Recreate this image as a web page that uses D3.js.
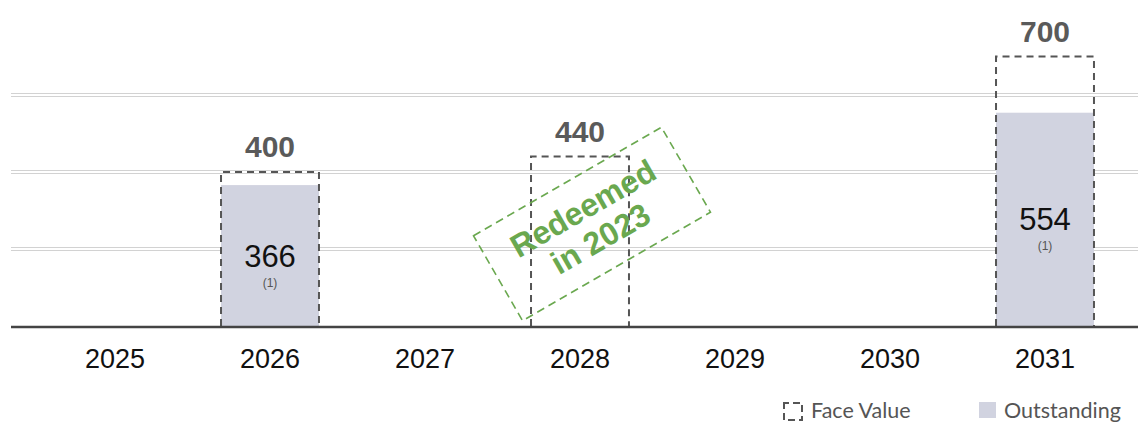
<!DOCTYPE html>
<html>
<head>
<meta charset="utf-8">
<script src="https://cdn.jsdelivr.net/npm/d3@7"></script>
<style>
  html, body { margin: 0; padding: 0; background: #fff; }
  svg { display: block; }
</style>
</head>
<body>
<svg id="chart" width="1138" height="424"></svg>
<script>
// Maturity profile (EUR m)
const years = ["2025", "2026", "2027", "2028", "2029", "2030", "2031"];
const faceValue = [null, 400, null, 440, null, null, 700];
const outstanding = [null, 366, null, null, null, null, 554];
const footnote = [null, "(1)", null, null, null, null, "(1)"];
const gridValues = [200, 400, 600];
const stampLines = ["Redeemed", "in 2023"];
const stampYear = "2028";
const legendItems = ["Face Value", "Outstanding"];

const W = 1138, H = 424;
const baseY = 326;
const svg = d3.select("#chart");

const x = d3.scaleBand()
  .domain(years)
  .range([37.5, 1122.5])
  .paddingInner(0.368)
  .paddingOuter(0.184);

const y = d3.scaleLinear()
  .domain([0, 700])
  .range([baseY, baseY - 700 * 0.385]);

const fillColor = "#d1d3e0";
const dashColor = "#555555";
const green = "#6aa84f";
const sans = "'Liberation Sans', Arial, sans-serif";

// double horizontal gridlines (two hairlines with a white gap)
const grid = svg.append("g");
gridValues.forEach(v => {
  const yc = Math.round(y(v));
  [-1.5, 1.5].forEach(off => {
    grid.append("line")
      .attr("x1", 11).attr("x2", W)
      .attr("y1", yc + off).attr("y2", yc + off)
      .attr("stroke", "#d2d2d2").attr("stroke-width", 1);
  });
});

const rows = years.map((yr, i) => ({
  year: yr, face: faceValue[i], out: outstanding[i], note: footnote[i]
}));

// outstanding bars
svg.append("g").selectAll("rect")
  .data(rows.filter(d => d.out != null))
  .join("rect")
  .attr("x", d => x(d.year))
  .attr("width", x.bandwidth())
  .attr("y", d => y(d.out))
  .attr("height", d => y(0) - y(d.out))
  .attr("fill", fillColor);

// face value frames
svg.append("g").selectAll("path")
  .data(rows.filter(d => d.face != null))
  .join("path")
  .attr("d", d => {
    const x0 = x(d.year), x1 = x0 + x.bandwidth(), yt = y(d.face);
    return `M${x0},${y(0)}V${yt}H${x1}V${y(0)}`;
  })
  .attr("fill", "none")
  .attr("stroke", dashColor)
  .attr("stroke-width", 2)
  .attr("stroke-dasharray", "7,5");

// face value labels
svg.append("g").selectAll("text")
  .data(rows.filter(d => d.face != null))
  .join("text")
  .attr("x", d => x(d.year) + x.bandwidth() / 2)
  .attr("y", d => y(d.face) - 15)
  .attr("text-anchor", "middle")
  .attr("font-family", sans)
  .attr("font-weight", "bold")
  .attr("font-size", 30)
  .attr("fill", "#5a5a5a")
  .text(d => d.face);

// outstanding labels with footnote marker
const inner = svg.append("g").selectAll("g")
  .data(rows.filter(d => d.out != null))
  .join("g")
  .attr("transform", d => `translate(${x(d.year) + x.bandwidth() / 2},${(y(d.out) + y(0)) / 2})`);
inner.append("text")
  .attr("y", 11)
  .attr("text-anchor", "middle")
  .attr("font-family", sans)
  .attr("font-size", 31)
  .attr("fill", "#111")
  .text(d => d.out);
inner.append("text")
  .attr("y", 31)
  .attr("text-anchor", "middle")
  .attr("font-family", sans)
  .attr("font-size", 12)
  .attr("fill", "#555")
  .text(d => d.note);

// baseline
svg.append("line")
  .attr("x1", 11).attr("x2", W)
  .attr("y1", baseY + 1).attr("y2", baseY + 1)
  .attr("stroke", "#444").attr("stroke-width", 2.5);

// category axis
const xAxis = svg.append("g")
  .attr("transform", `translate(0,${baseY})`)
  .call(d3.axisBottom(x).tickSize(0).tickPadding(0));
xAxis.select(".domain").remove();
xAxis.selectAll("text")
  .attr("dy", null)
  .attr("y", 42)
  .attr("font-family", sans)
  .attr("font-size", 27)
  .attr("fill", "#111");

// "Redeemed" stamp over the 2028 frame
const stamp = svg.append("g")
  .attr("transform", `translate(${x(stampYear) + x.bandwidth() / 2 + 12},224) rotate(-30)`);
stamp.append("rect")
  .attr("x", -108.5).attr("y", -49)
  .attr("width", 217).attr("height", 98)
  .attr("fill", "none")
  .attr("stroke", green)
  .attr("stroke-width", 1.6)
  .attr("stroke-dasharray", "8,5");
stamp.selectAll("text")
  .data(stampLines)
  .join("text")
  .attr("y", (d, i) => -18 + i * 35 + 11)
  .attr("text-anchor", "middle")
  .attr("font-family", sans)
  .attr("font-weight", "bold")
  .attr("font-size", 32)
  .attr("fill", green)
  .text(d => d);

// legend
const legend = svg.append("g").attr("font-family", "Lato, 'Open Sans', sans-serif");
legend.append("rect")
  .attr("x", 784).attr("y", 403)
  .attr("width", 18).attr("height", 17)
  .attr("fill", "none")
  .attr("stroke", dashColor)
  .attr("stroke-width", 2)
  .attr("stroke-dasharray", "7,4")
  .attr("stroke-dashoffset", 2);
legend.append("text")
  .attr("x", 811).attr("y", 418)
  .attr("font-size", 21.5)
  .attr("fill", "#555")
  .text(legendItems[0]);
legend.append("rect")
  .attr("x", 979).attr("y", 402)
  .attr("width", 17).attr("height", 16)
  .attr("fill", fillColor);
legend.append("text")
  .attr("x", 1004).attr("y", 418)
  .attr("font-size", 21.5)
  .attr("fill", "#555")
  .text(legendItems[1]);
</script>
</body>
</html>
